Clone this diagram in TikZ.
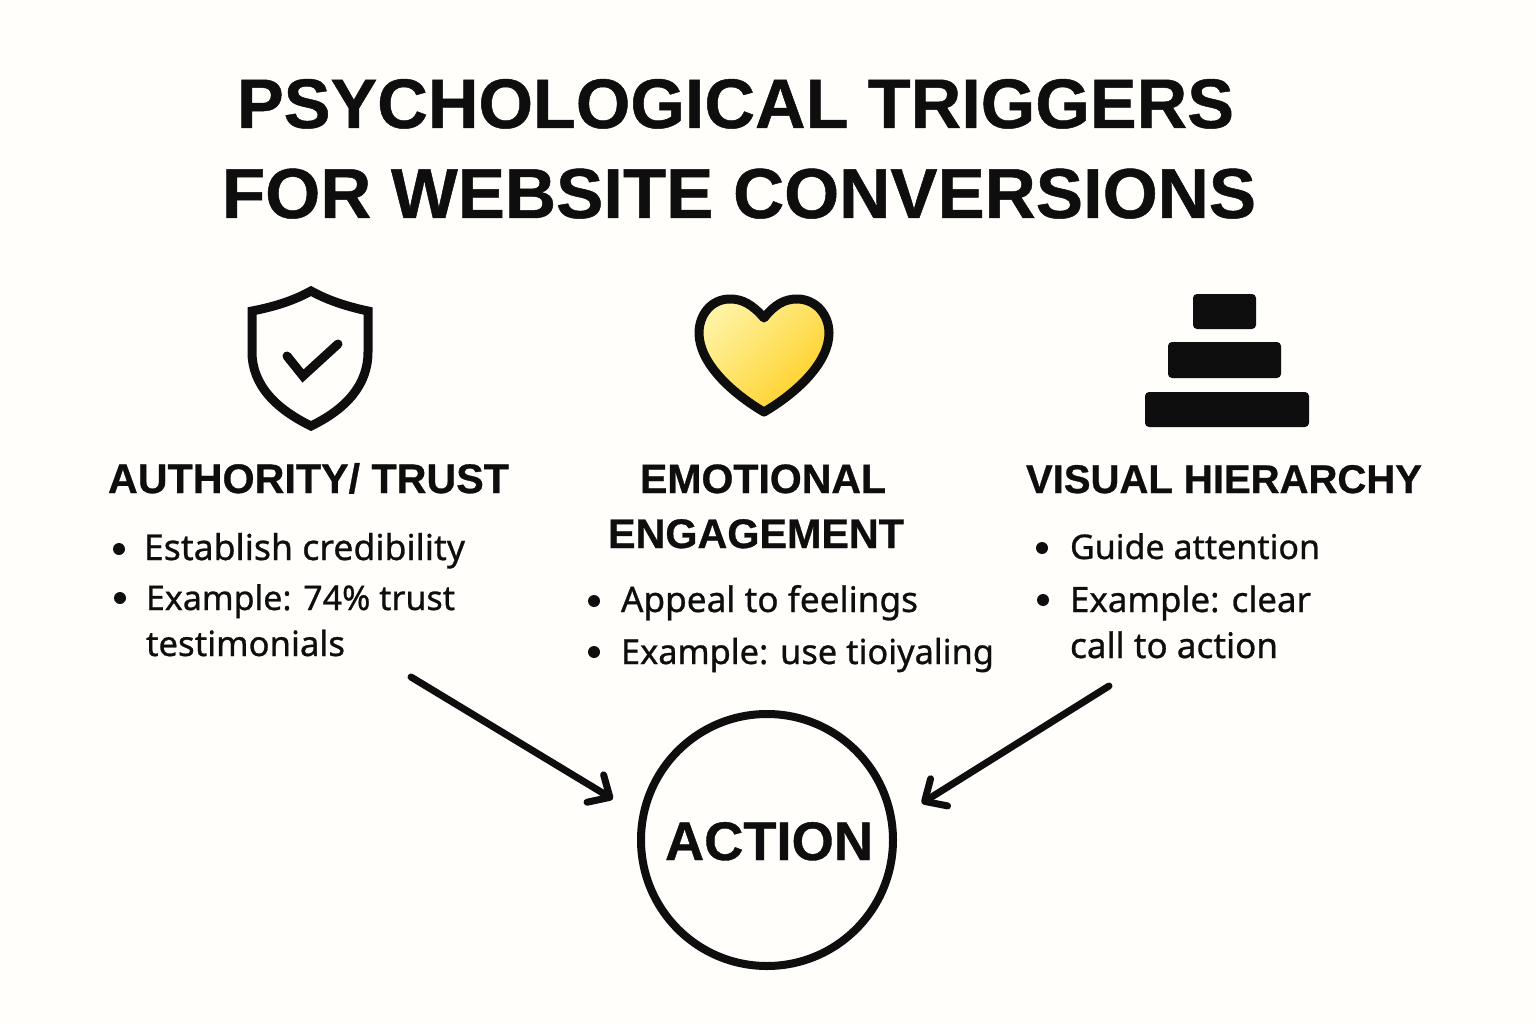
\documentclass[tikz,border=0pt]{standalone}
\usepackage{fontspec}
\setmainfont[BoldFeatures={FakeBold=0.7}]{Liberation Sans}
\newfontfamily\bodyfont[FakeBold=0.8]{Noto Sans}
\usetikzlibrary{arrows.meta}
\definecolor{ink}{HTML}{0E0E0E}
\definecolor{paper}{HTML}{FFFEFA}
\definecolor{heartlight}{HTML}{FFF2A0}
\definecolor{heartdeep}{HTML}{FFD022}
\newcommand{\fitw}[2]{\resizebox{#1pt}{!}{#2}}
\tikzset{
  x=1pt,y=-1pt,
  lbl/.style={anchor=base west,inner sep=0pt,outer sep=0pt,text=ink},
  titletext/.style={lbl,font=\fontsize{72}{72}\selectfont\bfseries},
  headtext/.style={lbl,font=\fontsize{44}{44}\selectfont\bfseries},
  bodytext/.style={lbl,font=\fontsize{36}{36}\selectfont\bodyfont},
  bulletdot/.style={circle,fill=ink,inner sep=0pt,minimum size=12pt},
  barrow/.style={draw=ink,line width=7pt,line cap=round,line join=round,
    -{Straight Barb[length=17pt,width=32pt,line width=7pt,round]},shorten >=31pt},
  icon/.style={draw=ink,line width=9pt,line join=miter},
  stepbar/.style={fill=ink,rounded corners=4pt},
}
\begin{document}
\begin{tikzpicture}
\useasboundingbox (0,0) rectangle (1536,1024);
\fill[paper] (0,0) rectangle (1536,1024);
% title
\node[titletext] (t1) at (237,128) {\fitw{997}{PSYCHOLOGICAL TRIGGERS}};
\node[titletext] (t2) at (222,218) {\fitw{1034}{FOR WEBSITE CONVERSIONS}};
% shield
\draw[icon] (311,291) .. controls (293,301) and (273,307) .. (252,311)
  -- (252,352) .. controls (252,385) and (276,409) .. (311,426)
  .. controls (346,409) and (368,385) .. (368,352)
  -- (368,311) .. controls (349,307) and (329,301) .. (311,291) -- cycle;
\draw[draw=ink,line width=9pt,line cap=round,line join=miter] (287,356) -- (303,376) -- (338,344);
% heart
\draw[draw=ink,line width=9pt,line join=round,left color=heartlight,right color=heartdeep,shading angle=45]
  (764,318) .. controls (752,304) and (742,299) .. (730,299)
  .. controls (711,299) and (699,315) .. (699,333)
  .. controls (699,362) and (730,392) .. (764,412)
  .. controls (798,392) and (829,362) .. (829,333)
  .. controls (829,315) and (816,299) .. (797,299)
  .. controls (785,299) and (775,304) .. (764,318) -- cycle;
% pyramid
\fill[stepbar] (1193,294) rectangle (1256,329);
\fill[stepbar] (1168,342) rectangle (1281,378);
\fill[stepbar] (1145,392) rectangle (1309,427);
% headings
\node[headtext] (h1) at (108,493) {\fitw{401}{AUTHORITY/ TRUST}};
\node[headtext] (h2a) at (640,493) {\fitw{246}{EMOTIONAL}};
\node[headtext] (h2b) at (608,548) {\fitw{296}{ENGAGEMENT}};
\node[headtext] (h3) at (1026,493) {\fitw{396}{VISUAL HIERARCHY}};
% column 1
\node[bulletdot] (b11) at (119,549) {};
\node[bulletdot] (b12) at (120,598) {};
\node[bodytext] (c11) at (144,560) {\fitw{321}{Establish credibility}};
\node[bodytext] (c12) at (146,610) {\fitw{309}{Example: 74\% trust}};
\node[bodytext] (c13) at (146,656) {\fitw{199}{testimonials}};
% column 2
\node[bulletdot] (b21) at (594,601) {};
\node[bulletdot] (b22) at (594,652) {};
\node[bodytext] (c21) at (621,612) {\fitw{297}{Appeal to feelings}};
\node[bodytext] (c22) at (621,664) {\fitw{373}{Example: use tioiyaling}};
% column 3
\node[bulletdot] (b31) at (1042,548) {};
\node[bulletdot] (b32) at (1043,600) {};
\node[bodytext] (c31) at (1070,559) {\fitw{250}{Guide attention}};
\node[bodytext] (c32) at (1070,612) {\fitw{241}{Example: clear}};
\node[bodytext] (c33) at (1070,658) {\fitw{208}{call to action}};
% action
\node[circle,draw=ink,line width=8pt,minimum size=252pt,inner sep=0pt] (action) at (767,840) {};
\node[lbl,font=\fontsize{62}{62}\selectfont\bfseries] (actiontext) at (665,860) {\fitw{208}{ACTION}};
% arrows
\coordinate (s1) at (411,677);
\coordinate (s3) at (1109,686);
\draw[barrow] (s1) -- (action.169);
\draw[barrow] (s3) -- (action.9);
\end{tikzpicture}
\end{document}
